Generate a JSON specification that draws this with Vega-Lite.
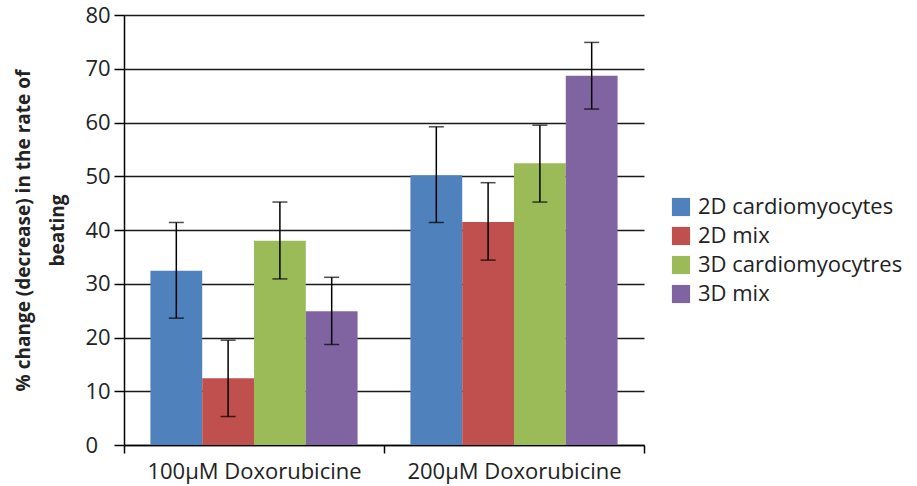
{
  "$schema": "https://vega.github.io/schema/vega-lite/v6.json",
  "width": 520,
  "height": 430,
  "autosize": {"type": "none"},
  "padding": {"left": 124, "top": 15, "right": 273, "bottom": 41},
  "background": "white",
  "config": {
    "view": {"stroke": null},
    "font": "Open Sans"
  },
  "data": {
    "values": [
      {"dose": "100µM Doxorubicine", "group": "2D cardiomyocytes", "value": 32.4, "lo": 23.6, "hi": 41.4},
      {"dose": "100µM Doxorubicine", "group": "2D mix", "value": 12.4, "lo": 5.3, "hi": 19.5},
      {"dose": "100µM Doxorubicine", "group": "3D cardiomyocytres", "value": 38.0, "lo": 30.9, "hi": 45.2},
      {"dose": "100µM Doxorubicine", "group": "3D mix", "value": 24.9, "lo": 18.7, "hi": 31.2},
      {"dose": "200µM Doxorubicine", "group": "2D cardiomyocytes", "value": 50.2, "lo": 41.4, "hi": 59.2},
      {"dose": "200µM Doxorubicine", "group": "2D mix", "value": 41.5, "lo": 34.4, "hi": 48.8},
      {"dose": "200µM Doxorubicine", "group": "3D cardiomyocytres", "value": 52.4, "lo": 45.2, "hi": 59.5},
      {"dose": "200µM Doxorubicine", "group": "3D mix", "value": 68.7, "lo": 62.5, "hi": 74.9}
    ]
  },
  "encoding": {
    "x": {
      "field": "dose",
      "type": "nominal",
      "scale": {"paddingInner": 0, "paddingOuter": 0},
      "axis": {
        "title": null,
        "labelAngle": 0,
        "labelFontSize": 22,
        "labelLimit": 0,
        "labelColor": "#222222",
        "labelPadding": 8,
        "tickBand": "extent",
        "tickSize": 8,
        "tickColor": "#000000",
        "tickWidth": 1.5,
        "domainColor": "#000000",
        "domainWidth": 1.5,
        "grid": false
      }
    },
    "xOffset": {
      "field": "group",
      "type": "nominal",
      "scale": {"paddingInner": 0, "paddingOuter": 0.51}
    }
  },
  "layer": [
    {
      "mark": {"type": "bar"},
      "encoding": {
        "y": {
          "field": "value",
          "type": "quantitative",
          "scale": {"domain": [0, 80], "nice": false},
          "axis": {
            "values": [0, 10, 20, 30, 40, 50, 60, 70, 80],
            "title": ["% change (decrease) in the rate of", "beating"],
            "titleFontSize": 19,
            "titleFontWeight": "bold",
            "titleColor": "#222222",
            "titleLineHeight": 34,
            "titleAngle": -90,
            "titleAlign": "center",
            "titleBaseline": "top",
            "titleX": -110,
            "titleY": 215,
            "labelFontSize": 22,
            "labelColor": "#222222",
            "labelAlign": "left",
            "labelPadding": 29,
            "tickSize": 10,
            "tickColor": "#000000",
            "tickWidth": 1.5,
            "domainColor": "#000000",
            "domainWidth": 1.5,
            "grid": true,
            "gridColor": "#1a1a1a",
            "gridWidth": 1.5
          }
        },
        "color": {
          "field": "group",
          "type": "nominal",
          "scale": {
            "domain": ["2D cardiomyocytes", "2D mix", "3D cardiomyocytres", "3D mix"],
            "range": ["#4F81BD", "#C0504D", "#9BBB59", "#8064A2"]
          },
          "legend": {
            "title": null,
            "orient": "none",
            "legendX": 546,
            "legendY": 181,
            "symbolType": "square",
            "symbolSize": 330,
            "symbolStrokeWidth": 0,
            "symbolOpacity": 1,
            "labelFontSize": 22,
            "labelLimit": 0,
            "labelColor": "#222222",
            "labelOffset": 6,
            "rowPadding": 7
          }
        }
      }
    },
    {
      "mark": {"type": "rule", "color": "#000000", "strokeWidth": 1.5},
      "encoding": {
        "y": {"field": "lo", "type": "quantitative"},
        "y2": {"field": "hi"}
      }
    },
    {
      "mark": {"type": "tick", "color": "#000000", "size": 15, "thickness": 1.5},
      "encoding": {
        "y": {"field": "lo", "type": "quantitative"}
      }
    },
    {
      "mark": {"type": "tick", "color": "#000000", "size": 15, "thickness": 1.5},
      "encoding": {
        "y": {"field": "hi", "type": "quantitative"}
      }
    }
  ]
}
